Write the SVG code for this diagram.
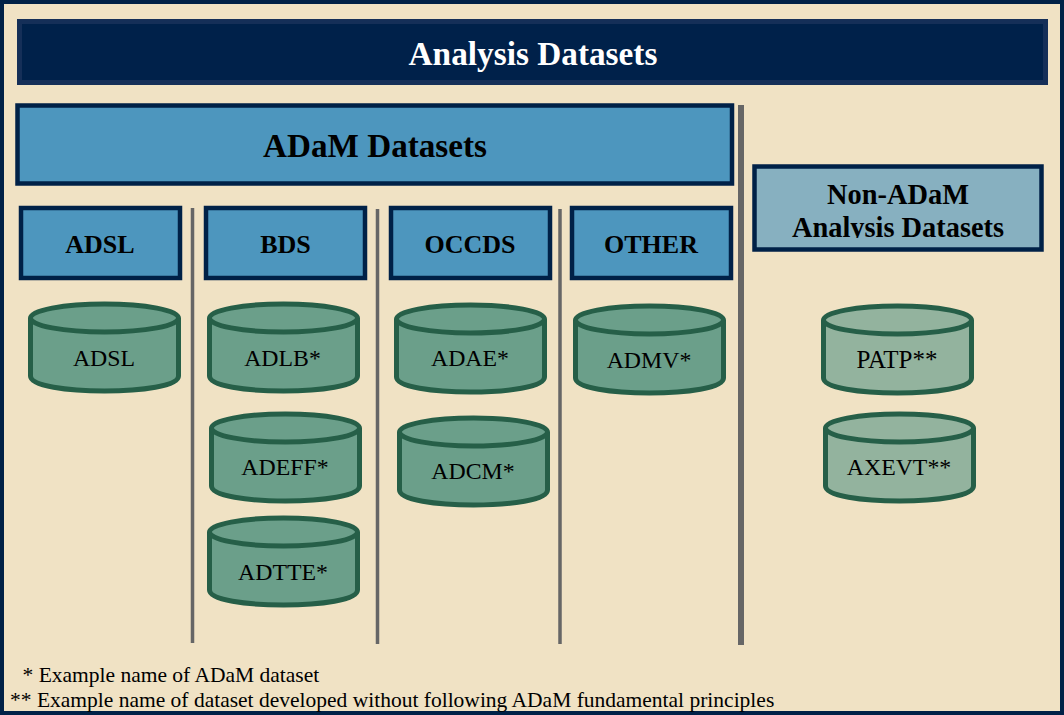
<svg xmlns="http://www.w3.org/2000/svg" width="1064" height="715" viewBox="0 0 1064 715">
<style>
text{font-family:"Liberation Serif","Times New Roman",serif;text-anchor:middle;fill:#000}
.h{font-weight:bold;font-size:26px}
.n{font-weight:bold;font-size:28.400px}
.t{font-size:23.800px;stroke:none}
.f{text-anchor:start;font-size:21.500px}
.box{fill:#4d96be;stroke:#002147;stroke-width:4.500}
.div{stroke:#666;stroke-width:3.500;fill:none}
.c{fill:#6b9f8a;stroke:#265f48;stroke-width:5}
.g{fill:#93b39e;stroke:#265f48;stroke-width:5}
</style>
<defs>
<g id="cyl"><path d="M-74 -39V19C-74 39 74 39 74 19V-39"/><ellipse cx="0" cy="-39" rx="74" ry="14"/></g>
<clipPath id="nonclip"><rect x="756" y="169" width="284" height="69"/></clipPath>
</defs>
<rect x="2" y="2" width="1060" height="711" fill="#f0e2c4" stroke="#002147" stroke-width="4"/>
<rect x="0" y="0" width="4" height="715" fill="#002147"/>
<g id="title"><rect x="19.500" y="21.500" width="1026" height="61" fill="#00214a" stroke="#152f58" stroke-width="5"/><text x="533" y="65" style="fill:#fff;font-weight:bold;font-size:33.300px">Analysis Datasets</text></g>
<g id="adam"><rect class="box" x="17.500" y="105.500" width="714.500" height="78"/><text x="375" y="157" style="font-weight:bold;font-size:33.200px">ADaM Datasets</text></g>
<g id="connectors"><path class="div" d="M192.500 208V643M377.500 209V644M560 209V644"/><path class="div" d="M741 105V645" style="stroke-width:6"/></g>
<g id="h-adsl"><rect class="box" x="21" y="208" width="159" height="70"/><text class="h" x="100" y="253">ADSL</text></g>
<g id="h-bds"><rect class="box" x="206" y="208" width="159" height="70"/><text class="h" x="285.500" y="253">BDS</text></g>
<g id="h-occds"><rect class="box" x="391" y="208" width="159" height="70"/><text class="h" x="470" y="253">OCCDS</text></g>
<g id="h-other"><rect class="box" x="572" y="208" width="159" height="70"/><text class="h" x="651" y="253">OTHER</text></g>
<g id="nonadam"><rect x="754.500" y="166.500" width="287" height="83" fill="#87b0c0" stroke="#002147" stroke-width="4.500"/><text class="n" x="898" y="204">Non-ADaM</text><text class="n" x="898" y="237" clip-path="url(#nonclip)">Analysis Datasets</text></g>
<g id="n-adsl" class="c"><use href="#cyl" x="104.500" y="357"/><text class="t" x="104" y="366">ADSL</text></g>
<g id="n-adlb" class="c"><use href="#cyl" x="283.500" y="357"/><text class="t" x="282.500" y="366">ADLB*</text></g>
<g id="n-adeff" class="c"><use href="#cyl" x="285.500" y="467"/><text class="t" x="285" y="475">ADEFF*</text></g>
<g id="n-adtte" class="c"><use href="#cyl" x="283.500" y="571"/><text class="t" x="283" y="580">ADTTE*</text></g>
<g id="n-adae" class="c"><use href="#cyl" x="470.500" y="358"/><text class="t" x="470" y="366">ADAE*</text></g>
<g id="n-adcm" class="c"><use href="#cyl" x="473.500" y="471"/><text class="t" x="473" y="479">ADCM*</text></g>
<g id="n-admv" class="c"><use href="#cyl" x="649.500" y="359"/><text class="t" x="649" y="368">ADMV*</text></g>
<g id="n-patp" class="g"><use href="#cyl" x="897.500" y="359"/><text class="t" x="897" y="368" style="font-size:25px">PATP**</text></g>
<g id="n-axevt" class="g"><use href="#cyl" x="899.500" y="467"/><text class="t" x="899" y="475">AXEVT**</text></g>
<text class="f" x="22.500" y="682">* Example name of ADaM dataset</text>
<text class="f" x="10" y="707">** Example name of dataset developed without following ADaM fundamental principles</text>
</svg>
